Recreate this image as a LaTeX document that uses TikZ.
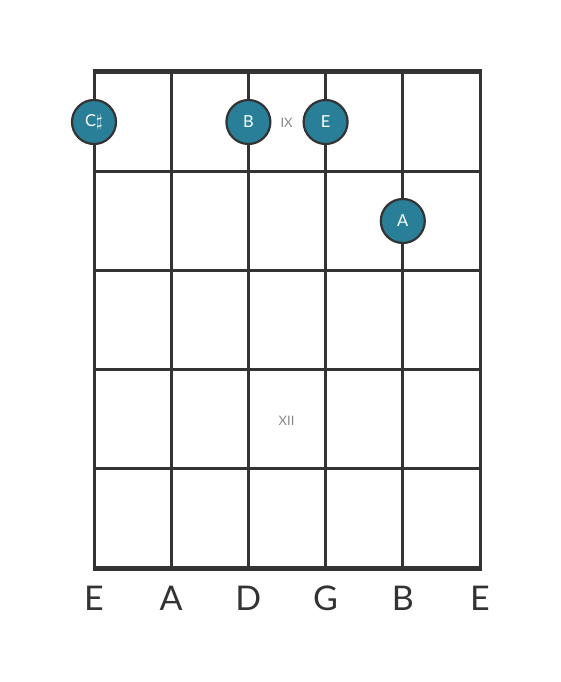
\documentclass[tikz,border=0pt]{standalone}
\usepackage{fontspec}
\setmainfont{Lato}
\usepackage{tikz}
\usetikzlibrary{positioning}
\definecolor{fretline}{HTML}{333333}
\definecolor{dotfill}{HTML}{2A7F98}
\definecolor{fretnum}{HTML}{888888}
\begin{document}
\begin{tikzpicture}[x=1pt,y=-1pt]
      \tikzstyle{every node}+=[inner sep=0pt]
      \tikzstyle{notedot}=[circle, draw=fretline, line width=2.2pt, fill=dotfill, minimum size=44pt, text=white, font=\fontsize{16.5}{16.5}\selectfont]
      \tikzstyle{fretmark}=[text=fretnum, font=\fontsize{13}{13}\selectfont]
      \tikzstyle{stringname}=[text=fretline, font=\fontsize{34}{34}\selectfont]
      \useasboundingbox (0,0) rectangle (560,682);
      % strings
      \foreach \s in {0,...,5}
        \draw [fretline, line width=3pt] (94+77.2*\s,72) -- (94+77.2*\s,568);
      % frets
      \foreach \f in {1,...,4}
        \draw [fretline, line width=3pt] (94,72+99.2*\f) -- (480,72+99.2*\f);
      \draw [fretline, line width=5pt] (92.5,72) -- (481.5,72);
      \draw [fretline, line width=5pt] (92.5,568) -- (481.5,568);
      % fret numbers
      \node [fretmark] (ix) at (286.6,122.5) {IX};
      \node [fretmark] (xii) at (286.6,420.5) {XII};
      % notes
      \node [notedot] (cs) at (94,122) {C\raisebox{0.5pt}{$\sharp$}};
      \node [notedot] (b) at (248.4,122) {B};
      \node [notedot] (e) at (325.6,122) {E};
      \node [notedot] (a) at (402.8,221) {A};
      % string names
      \node [stringname] (s1) at (94,598) {E};
      \node [stringname] (s2) at (171.2,598) {A};
      \node [stringname] (s3) at (248.4,598) {D};
      \node [stringname] (s4) at (325.6,598) {G};
      \node [stringname] (s5) at (402.8,598) {B};
      \node [stringname] (s6) at (480,598) {E};
\end{tikzpicture}
\end{document}
